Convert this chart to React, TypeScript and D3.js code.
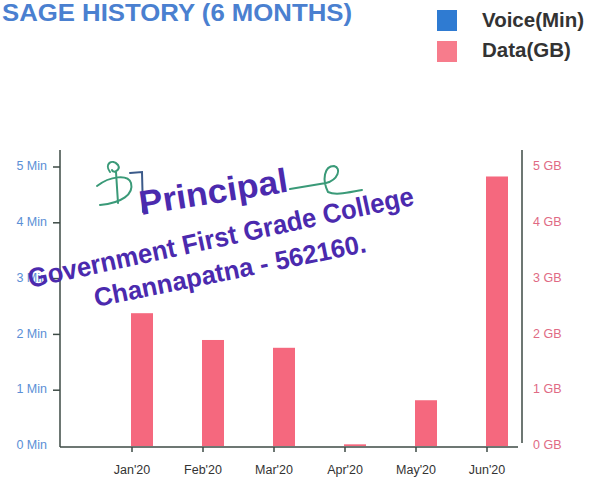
import React, {useEffect, useRef} from 'react';
import * as d3 from 'd3';

// chart data
const months = ["Jan'20", "Feb'20", "Mar'20", "Apr'20", "May'20", "Jun'20"];
const voiceMin = [0, 0, 0, 0, 0, 0];
const dataGB = [2.38, 1.9, 1.76, 0.03, 0.82, 4.83];
const yTicks = [0, 1, 2, 3, 4, 5];

const legendItems = ["Voice(Min)", "Data(GB)"];
const stampLines = ["Principal", "Government First Grade College", "Channapatna - 562160."];

export default function App() {
    const svgRef = useRef<SVGSVGElement>(null);

    const width = 604,
        height = 480;

    const voiceColor = "#2f7bd2";
    const dataColor = "#f5687e";
    const font = "Liberation Sans, Arial, sans-serif";

    useEffect(() => {
        const svg = d3.select(svgRef.current);
        svg.selectAll("*").remove();

        const left = 60, right = 522, top = 150, bottom = 447;

        const x = d3.scaleBand<string>()
            .domain(months)
            .range([96.5, 522.5]);

        const y = d3.scaleLinear()
            .domain([0, 5])
            .range([446, 167]);

        const barW = 22;

        // title (only the visible part of the source's title)
        svg.append("text")
            .attr("x", 2).attr("y", 21)
            .style("font-family", font)
            .style("font-weight", "bold")
            .style("font-size", "24.5px")
            .attr("fill", "#4a80d0")
            .attr("textLength", 350)
            .attr("lengthAdjust", "spacingAndGlyphs")
            .text("SAGE HISTORY (6 MONTHS)");

        // legend
        legendItems.forEach((name, i) => {
            svg.append("rect")
                .attr("x", 437).attr("y", 10 + i * 31)
                .attr("width", 20).attr("height", 21)
                .attr("fill", i === 0 ? voiceColor : "#f77c8c");
            svg.append("text")
                .attr("x", 482).attr("y", 27 + i * 30)
                .style("font-family", font)
                .style("font-weight", "bold")
                .style("font-size", "20.5px")
                .attr("fill", "#333")
                .text(name);
        });

        // axis lines
        svg.append("line").attr("x1", left).attr("x2", left).attr("y1", top).attr("y2", bottom)
            .attr("stroke", "#3d4a45").attr("stroke-width", 1.5);
        svg.append("line").attr("x1", right).attr("x2", right).attr("y1", top).attr("y2", 443)
            .attr("stroke", "#3d4a45").attr("stroke-width", 1.5);
        svg.append("line").attr("x1", left).attr("x2", 518).attr("y1", bottom).attr("y2", bottom)
            .attr("stroke", "#3d4a45").attr("stroke-width", 1.5);

        // left ticks
        yTicks.forEach(t => {
            if (t > 0) {
                svg.append("line").attr("x1", 53).attr("x2", left).attr("y1", y(t)).attr("y2", y(t))
                    .attr("stroke", "#3d4a45").attr("stroke-width", 1.5);
            }
            svg.append("text")
                .attr("x", 47).attr("y", y(t))
                .attr("text-anchor", "end")
                .attr("dominant-baseline", "middle")
                .style("font-family", font)
                .style("font-size", "12.5px")
                .attr("fill", "#5b8fd6")
                .text(`${t} Min`);
        });

        // right ticks
        yTicks.forEach(t => {
            svg.append("text")
                .attr("x", 533).attr("y", y(t))
                .attr("dominant-baseline", "middle")
                .style("font-family", font)
                .style("font-size", "12.5px")
                .attr("fill", "#e06a84")
                .text(`${t} GB`);
        });

        // x ticks + labels
        months.forEach(m => {
            const cx = x(m)! + x.bandwidth() / 2;
            svg.append("line").attr("x1", cx).attr("x2", cx).attr("y1", bottom).attr("y2", bottom + 5)
                .attr("stroke", "#3d4a45").attr("stroke-width", 1.5);
            svg.append("text")
                .attr("x", cx).attr("y", 474)
                .attr("text-anchor", "middle")
                .style("font-family", font)
                .style("font-size", "12.5px")
                .attr("fill", "#333")
                .text(m);
        });

        // voice bars (left of tick)
        svg.append("g").selectAll("rect")
            .data(voiceMin)
            .enter()
            .append("rect")
            .attr("x", (d, i) => x(months[i])! + x.bandwidth() / 2 - barW)
            .attr("y", d => y(d))
            .attr("width", barW)
            .attr("height", d => y(0) - y(d))
            .attr("fill", voiceColor);

        // data bars (right of tick)
        svg.append("g").selectAll("rect")
            .data(dataGB)
            .enter()
            .append("rect")
            .attr("x", (d, i) => x(months[i])! + x.bandwidth() / 2 - 1)
            .attr("y", d => y(d))
            .attr("width", barW)
            .attr("height", d => y(0) - y(d))
            .attr("fill", dataColor);

        // stamp + signature over the chart
        const sig = svg.append("g")
            .attr("fill", "none")
            .attr("stroke", "#3a9a78")
            .attr("stroke-width", 2)
            .attr("stroke-linecap", "round");
        sig.append("path").attr("d", "M110 172 C104 164 112 158 118 165 C121 170 113 174 112 170 M116 172 L118 203");
        sig.append("path").attr("d", "M97 186 C110 176 128 174 131 183 C134 194 122 203 100 205");
        sig.append("path").attr("d", "M130 173 L142 172 L143 212").attr("stroke", "#3b5a8a");
        sig.append("path").attr("d", "M290 189 L326 183 C338 180 342 168 334 166 C324 166 322 180 328 192 C336 196 350 192 362 190");

        const stamp = svg.append("g")
            .style("font-family", font)
            .style("font-weight", "bold")
            .attr("fill", "#4b2aae");
        stamp.append("text")
            .attr("transform", "translate(141,215) rotate(-9)")
            .style("font-size", "34px")
            .attr("textLength", 150)
            .attr("lengthAdjust", "spacingAndGlyphs")
            .text(stampLines[0]);
        stamp.append("text")
            .attr("transform", "translate(30,288) rotate(-12.2)")
            .style("font-size", "27px")
            .attr("textLength", 394)
            .attr("lengthAdjust", "spacingAndGlyphs")
            .text(stampLines[1]);
        stamp.append("text")
            .attr("transform", "translate(96,307) rotate(-11.5)")
            .style("font-size", "26px")
            .attr("textLength", 277)
            .attr("lengthAdjust", "spacingAndGlyphs")
            .text(stampLines[2]);
    }, []);

    return (
        <div style={{position: "absolute", left: 0, top: 0}}>
            <svg ref={svgRef} width={width} height={height} style={{display: "block", background: "#fff"}}/>
        </div>
    );
}
